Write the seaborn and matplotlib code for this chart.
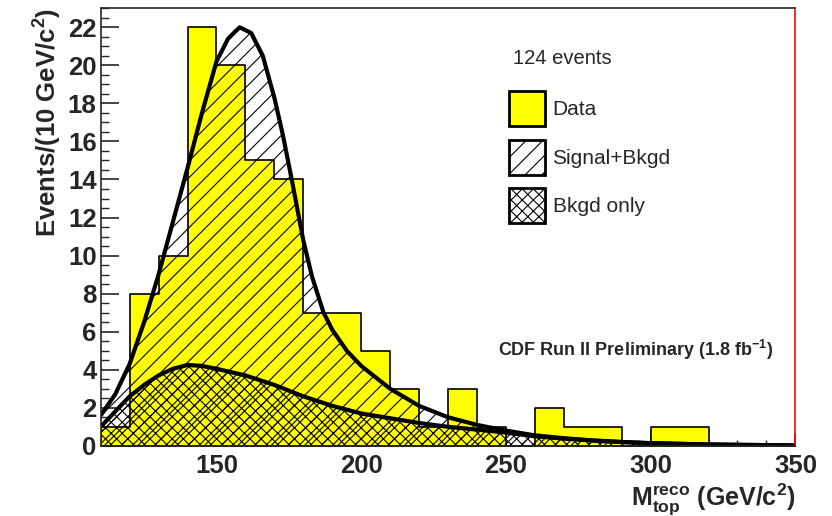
import matplotlib
matplotlib.use("Agg")
import matplotlib.pyplot as plt
import seaborn as sns
from matplotlib.patches import Patch
from matplotlib.ticker import MultipleLocator

# histogram of reconstructed top mass, 10 GeV bins
bin_edges = list(range(110, 360, 10))
data_counts = [1, 8, 10, 22, 20, 15, 14, 7, 7, 5, 3, 1, 3, 1, 0, 2, 1, 1, 0, 1, 1, 0, 0, 0]
bin_centers = [e + 5 for e in bin_edges[:-1]]

# fitted curves
sig_mass = [110, 115, 120, 125, 130, 135, 140, 145, 150, 154, 158, 162, 166, 170,
            173, 176, 180, 183, 187, 190, 195, 200, 210, 220, 230, 240, 250, 260,
            270, 280, 290, 300, 320, 350]
sig_vals = [1.6, 2.7, 4.3, 6.5, 9.0, 11.8, 14.6, 17.5, 20.2, 21.4, 22.0, 21.7, 20.5, 18.3,
            16.3, 14.0, 10.8, 8.9, 7.0, 6.1, 5.0, 4.2, 3.0, 2.1, 1.5, 1.1, 0.8, 0.55,
            0.4, 0.28, 0.2, 0.14, 0.07, 0.02]
bkg_mass = [110, 115, 120, 125, 130, 135, 140, 145, 150, 160, 170, 180, 190, 200,
            210, 220, 230, 240, 250, 260, 270, 280, 290, 300, 320, 350]
bkg_vals = [1.0, 1.8, 2.6, 3.2, 3.7, 4.05, 4.25, 4.2, 4.05, 3.7, 3.2, 2.6, 2.1, 1.7,
            1.45, 1.2, 1.0, 0.85, 0.7, 0.5, 0.38, 0.28, 0.2, 0.14, 0.07, 0.02]

sns.set_style("ticks")
plt.rcParams["font.family"] = ["Liberation Sans", "DejaVu Sans"]
plt.rcParams["mathtext.fontset"] = "custom"
plt.rcParams["mathtext.rm"] = "Liberation Sans:bold"
plt.rcParams["mathtext.it"] = "Liberation Sans:bold"
plt.rcParams["mathtext.bf"] = "Liberation Sans:bold"
plt.rcParams["hatch.linewidth"] = 0.8

fig = plt.figure(figsize=(8.32, 5.16), dpi=100)
ax = fig.add_axes([0.121, 0.136, 0.835, 0.848])

sns.histplot(x=bin_centers, weights=data_counts, bins=bin_edges, element="step",
             fill=True, color="#ffff00", edgecolor="black", linewidth=1.2,
             alpha=1, ax=ax)

# hatched signal+bkgd band and cross-hatched background
ax.fill_between(sig_mass, 0, sig_vals, facecolor="none", edgecolor="black",
                hatch="//", linewidth=0)
ax.fill_between(bkg_mass, 0, bkg_vals, facecolor="none", edgecolor="black",
                hatch="xxx", linewidth=0)
sns.lineplot(x=sig_mass, y=sig_vals, color="black", linewidth=3, ax=ax)
sns.lineplot(x=bkg_mass, y=bkg_vals, color="black", linewidth=3, ax=ax)

ax.set_xlim(110, 350)
ax.set_ylim(0, 23)
ax.xaxis.set_major_locator(MultipleLocator(50))
ax.xaxis.set_minor_locator(MultipleLocator(10))
ax.yaxis.set_major_locator(MultipleLocator(2))
ax.yaxis.set_minor_locator(MultipleLocator(0.5))
ax.tick_params(axis="both", which="both", direction="in")
ax.tick_params(axis="y", which="major", length=13, width=1.2, pad=3)
ax.tick_params(axis="y", which="minor", length=6, width=1.0)
ax.tick_params(axis="x", which="major", length=9, width=1.2, pad=6)
ax.tick_params(axis="x", which="minor", length=4, width=1.0)
for lab in ax.get_xticklabels() + ax.get_yticklabels():
    lab.set_fontsize(18.5)
    lab.set_fontweight("bold")
for s in ax.spines.values():
    s.set_linewidth(1.2)
ax.spines["right"].set_color("red")

ax.set_ylabel(r"Events/(10 GeV/c$^{2}$)", fontsize=18.5, fontweight="bold", loc="top",
              labelpad=3)
ax.set_xlabel(r"$\mathbf{M_{top}^{reco}}$ (GeV/c$^{2}$)", fontsize=18,
              fontweight="bold", loc="right", labelpad=2)

ax.text(0.593, 0.885, "124 events", transform=ax.transAxes, fontsize=14.5,
        va="center", ha="left")
handles = [
    Patch(facecolor="#ffff00", edgecolor="black", linewidth=2, label="Data"),
    Patch(facecolor="white", edgecolor="black", linewidth=2, hatch="//", label="Signal+Bkgd"),
    Patch(facecolor="white", edgecolor="black", linewidth=2, hatch="xxx", label="Bkgd only"),
]
ax.legend(handles=handles, loc="upper left", bbox_to_anchor=(0.588, 0.81),
          frameon=False, fontsize=15, handlelength=1.73, handleheight=2.2,
          labelspacing=0.65, handletextpad=0.35, borderpad=0, borderaxespad=0)

ax.text(0.968, 0.22, r"CDF Run II Preliminary (1.8 fb$^{-1}$)", transform=ax.transAxes,
        fontsize=13, fontweight="bold", ha="right", va="center")

fig.savefig("out.png", dpi=100)
